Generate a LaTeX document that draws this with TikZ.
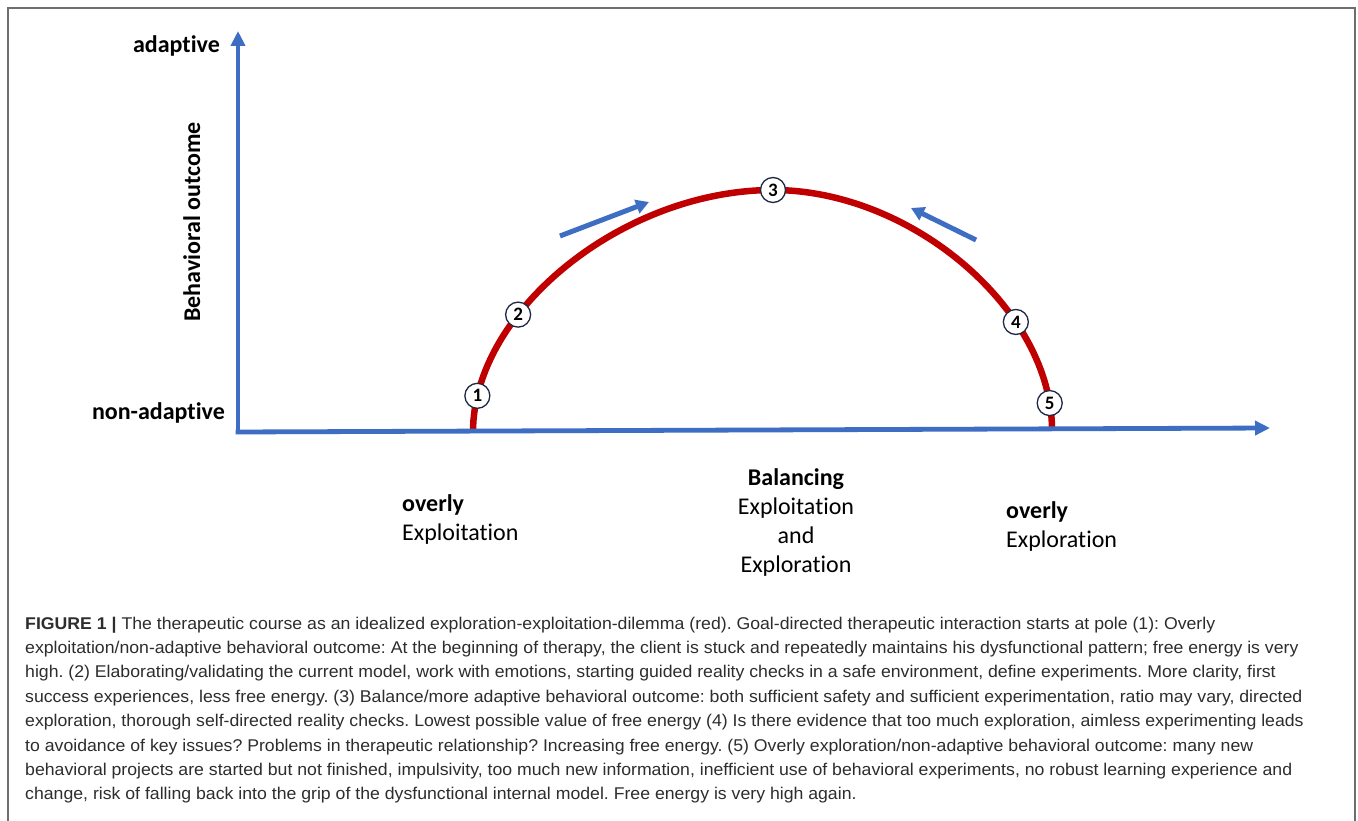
\documentclass[tikz,border=0pt]{standalone}
\usepackage{fontspec}
\setmainfont{Carlito}[Ligatures={NoCommon}]
\newfontfamily\capfont{Liberation Sans}[FakeStretch=1.04]
\usetikzlibrary{arrows.meta}
\definecolor{axisblue}{RGB}{62,110,196}
\definecolor{arcred}{RGB}{192,0,0}
\definecolor{framegray}{RGB}{110,110,110}
\definecolor{numring}{RGB}{30,40,70}
\definecolor{captext}{RGB}{45,45,45}
\frenchspacing
\begin{document}
\begin{tikzpicture}[x=1bp,y=-1bp,
 axis/.style={draw=axisblue, line width=4.8bp, -{Triangle[length=15bp,width=14bp]}},
 hint/.style={draw=axisblue, line width=5bp, -{Triangle[length=13bp,width=14bp]}},
 pole/.style={circle, draw=numring, line width=1.3bp, fill=white, minimum size=25bp, inner sep=0pt, font=\fontsize{19bp}{19bp}\selectfont\bfseries},
 lbl/.style={font=\fontsize{24bp}{29bp}\selectfont\bfseries, inner sep=0pt},
 sub/.style={font=\fontsize{24bp}{29bp}\selectfont, inner sep=0pt},
 capline/.style={anchor=base west, inner sep=0pt, text=captext, font=\capfont\fontsize{17bp}{24.4bp}\selectfont}
]
\useasboundingbox (0,0) rectangle (1358,820);
\fill[white] (0,0) rectangle (1358,820);
\draw[framegray, line width=2bp] (7.5,830) -- (7.5,8) -- (1355,8) -- (1355,830);

% red arc
\coordinate (footL) at (473,432);
\coordinate (apex) at (773,190);
\coordinate (footR) at (1052,430);
\draw[arcred, line width=6.5bp] (footL) .. controls (473,311) and (623,190) .. (apex)
  coordinate[pos=0.1] (c1) coordinate[pos=0.336] (c2)
  .. controls (912,190) and (1052,310) .. (footR)
  coordinate[pos=0.69] (c4) coordinate[pos=0.925] (c5);

% axes
\coordinate (O) at (238,434.4);
\coordinate (Ox) at (235.6,432);
\coordinate (ytip) at (238,31);
\coordinate (xtip) at (1270,428);
\draw[axis] (O) -- (ytip);
\draw[axis] (Ox) -- (xtip);

% direction hints
\coordinate (h1s) at (560,236);
\coordinate (h1e) at (649,202);
\coordinate (h2s) at (976,240);
\coordinate (h2e) at (911,208);
\draw[hint] (h1s) -- (h1e);
\draw[hint] (h2s) -- (h2e);

% poles
\node[pole] (n1) at (c1) {1};
\node[pole] (n2) at (c2) {2};
\node[pole] (n3) at (apex) {3};
\node[pole] (n4) at (c4) {4};
\node[pole] (n5) at (c5) {5};

% axis labels
\node[lbl, anchor=base east] (ad) at (220,53) {adaptive};
\node[lbl, anchor=base east] (nad) at (225,419) {non-adaptive};
\node[lbl, anchor=base, rotate=90] (bo) at (200,222) {Behavioral outcome};

% pole labels
\node[lbl, anchor=base west] (ovL) at (402,511) {overly};
\node[sub, anchor=base west] (exL) at (402,540) {Exploitation};
\node[lbl, anchor=base] (bal) at (796,485) {Balancing};
\node[sub, anchor=base] (balA) at (796,514) {Exploitation};
\node[sub, anchor=base] (balB) at (796,543) {and};
\node[sub, anchor=base] (balC) at (796,572) {Exploration};
\node[lbl, anchor=base west] (ovR) at (1006,518) {overly};
\node[sub, anchor=base west] (exR) at (1006,547) {Exploration};

% caption
\node[capline] (cap1) at (25,629) {\textbf{FIGURE 1 |} The therapeutic course as an idealized exploration-exploitation-dilemma (red). Goal-directed therapeutic interaction starts at pole (1): Overly};
\node[capline] (cap2) at (25,653.4) {exploitation/non-adaptive behavioral outcome: At the beginning of therapy, the client is stuck and repeatedly maintains his dysfunctional pattern; free energy is very};
\node[capline] (cap3) at (25,677.8) {high. (2) Elaborating/validating the current model, work with emotions, starting guided reality checks in a safe environment, define experiments. More clarity, first};
\node[capline] (cap4) at (25,702.2) {success experiences, less free energy. (3) Balance/more adaptive behavioral outcome: both sufficient safety and sufficient experimentation, ratio may vary, directed};
\node[capline] (cap5) at (25,726.6) {exploration, thorough self-directed reality checks. Lowest possible value of free energy (4) Is there evidence that too much exploration, aimless experimenting leads};
\node[capline] (cap6) at (25,751) {to avoidance of key issues? Problems in therapeutic relationship? Increasing free energy. (5) Overly exploration/non-adaptive behavioral outcome: many new};
\node[capline] (cap7) at (25,775.4) {behavioral projects are started but not finished, impulsivity, too much new information, inefficient use of behavioral experiments, no robust learning experience and};
\node[capline] (cap8) at (25,799.8) {change, risk of falling back into the grip of the dysfunctional internal model. Free energy is very high again.};
\end{tikzpicture}
\end{document}
